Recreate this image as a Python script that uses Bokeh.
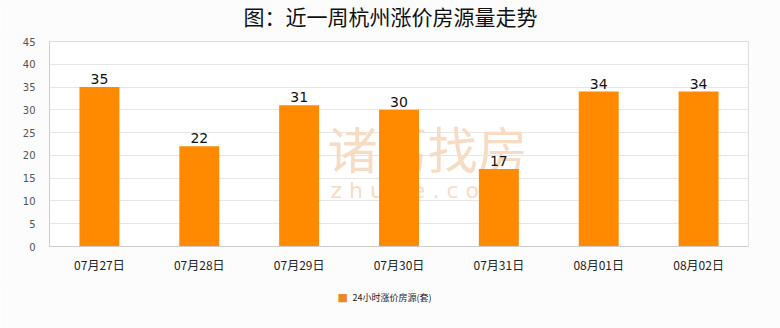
from bokeh.plotting import figure
from bokeh.layouts import column
from bokeh.models import ColumnDataSource, Label, FactorRange, Range1d, SingleIntervalTicker, LabelSet
from bokeh.core.properties import value
from bokeh.embed import file_html
from bokeh.resources import INLINE

categories = ["07月27日", "07月28日", "07月29日", "07月30日", "07月31日", "08月01日", "08月02日"]
values = [35, 22, 31, 30, 17, 34, 34]
series_name = "24小时涨价房源(套)"
title_text = "图：近一周杭州涨价房源量走势"

FONT = "Noto Sans CJK SC"
ORANGE = "#ff8a00"
BG = "#fcfcfc"
FRAME_LEFT = 49


def strip(h):
    f = figure(width=780, height=h, x_range=Range1d(0, 1), y_range=Range1d(0, 1),
               output_backend="svg", toolbar_location=None,
               min_border_left=0, min_border_right=0, min_border_top=0, min_border_bottom=0)
    f.axis.visible = False
    f.grid.visible = False
    f.outline_line_color = None
    f.background_fill_color = BG
    f.border_fill_color = BG
    return f


# title strip
p3 = strip(33)
p3.add_layout(Label(x=390 - FRAME_LEFT, y=18, x_units="screen", y_units="screen", text=title_text,
                    text_align="center", text_baseline="middle", text_font=FONT,
                    text_font_size="21px", text_color="#111111"))

src = ColumnDataSource(dict(x=categories, top=values, lbl=[str(v) for v in values]))

p = figure(width=780, height=247, x_range=FactorRange(*categories), y_range=Range1d(0, 45),
           output_backend="svg", toolbar_location=None,
           min_border_left=FRAME_LEFT, min_border_right=32, min_border_top=8, min_border_bottom=34)
p.background_fill_color = "#ffffff"
p.border_fill_color = BG
p.outline_line_color = "#dddddd"
p.outline_line_width = 1

# watermark
wm1 = Label(x=278, y=64, x_units="screen", y_units="screen", text="诸葛找房",
            text_font=FONT, text_font_size="50px", text_color="#f7dcc4", level="underlay")
wm2 = Label(x=281, y=44, x_units="screen", y_units="screen", text="z h u g e . c o m",
            text_font="DejaVu Sans", text_font_size="22px", text_color="#f7dcc4", level="underlay")
p.add_layout(wm1)
p.add_layout(wm2)

r = p.vbar(x="x", top="top", width=0.4, source=src, color=ORANGE, line_color=None)

labels = LabelSet(x="x", y="top", text="lbl", source=src, text_align="center", y_offset=3,
                  text_font=value("DejaVu Sans"), text_font_size=value("14px"), text_color="#111111")
p.add_layout(labels)

p.xgrid.grid_line_color = None
p.ygrid.grid_line_color = "#e6e6e6"
p.yaxis.ticker = SingleIntervalTicker(interval=5)
p.yaxis.axis_line_color = "#cccccc"
p.yaxis.major_tick_line_color = None
p.yaxis.minor_tick_line_color = None
p.yaxis.major_label_text_font = "DejaVu Sans"
p.yaxis.major_label_text_font_size = "10px"
p.yaxis.major_label_text_color = "#555555"
p.yaxis.major_label_standoff = 8

p.xaxis.axis_line_color = "#cccccc"
p.xaxis.major_tick_line_color = None
p.xaxis.minor_tick_line_color = None
p.xaxis.major_label_text_font = FONT
p.xaxis.major_label_text_font_size = "12px"
p.xaxis.major_label_text_color = "#222222"
p.xaxis.major_label_standoff = 3

# legend strip below the chart
p2 = strip(48)
p2.add_layout(Label(x=337 - FRAME_LEFT, y=31.5, x_units="screen", y_units="screen", text="■",
                    text_baseline="middle", text_font="DejaVu Sans", text_font_size="11px",
                    text_color="#e8892a"))
p2.add_layout(Label(x=352 - FRAME_LEFT, y=31.5, x_units="screen", y_units="screen", text=series_name,
                    text_baseline="middle", text_font=FONT, text_font_size="9px",
                    text_color="#222222"))

layout = column(p3, p, p2, spacing=0)
open("out.html", "w").write(file_html(layout, INLINE))
